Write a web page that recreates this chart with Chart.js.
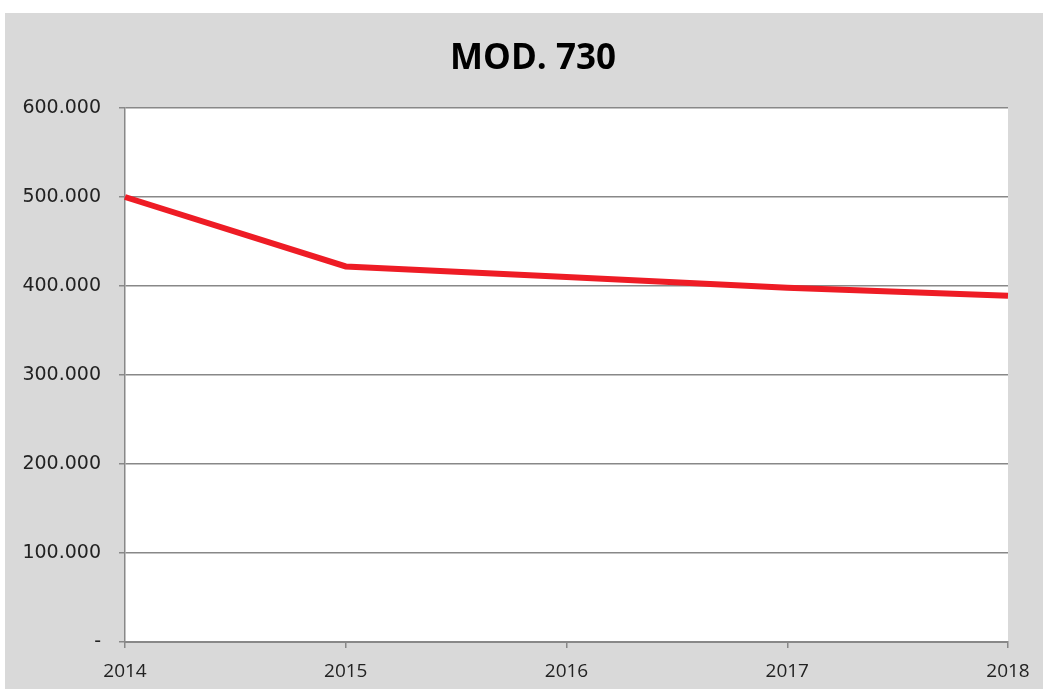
<!DOCTYPE html>
<html>
<head>
<meta charset="utf-8">
<script src="https://cdn.jsdelivr.net/npm/chart.js@4.4.0/dist/chart.umd.min.js"></script>
<style>
    html, body { margin: 0; padding: 0; background: #ffffff; }
    #wrap { position: absolute; left: 5px; top: 13px; width: 1038px; height: 676px; background: #d9d9d9; }
</style>
</head>
<body>
<div id="wrap"><canvas id="chart"></canvas></div>
<script>
const years = ["2014", "2015", "2016", "2017", "2018"];
const mod730 = [500000, 422000, 410000, 398000, 389000];
const yTicks = [0, 100000, 200000, 300000, 400000, 500000, 600000];
const chartTitle = "MOD. 730";

function formatIt(v) {
    if (v === 0) return "-";
    return String(v).replace(/\B(?=(\d{3})+(?!\d))/g, ".");
}

// white plot area + title centred on the whole page
const decor = {
    id: "decor",
    beforeDraw(chart) {
        const a = chart.chartArea;
        const ctx = chart.ctx;
        ctx.save();
        ctx.fillStyle = "#ffffff";
        ctx.fillRect(a.left, a.top, a.right - a.left, a.bottom - a.top);
        ctx.fillStyle = "#000000";
        ctx.font = "bold 35px 'Open Sans', sans-serif";
        ctx.textAlign = "center";
        ctx.textBaseline = "middle";
        ctx.fillText(chartTitle, 528, 46);
        ctx.restore();
    }
};

new Chart(document.getElementById("chart"), {
    type: "line",
    data: {
        labels: years,
        datasets: [{
            label: chartTitle,
            data: mod730,
            borderColor: "#ee1c25",
            borderWidth: 6,
            pointRadius: 0,
            tension: 0
        }]
    },
    options: {
        responsive: true,
        maintainAspectRatio: false,
        animation: false,
        layout: { padding: { left: 0, right: 35, top: 95, bottom: 0 } },
        plugins: {
            legend: { display: false },
            tooltip: { enabled: false },
            title: { display: false }
        },
        scales: {
            x: {
                offset: false,
                grid: { drawOnChartArea: false, drawTicks: true, tickLength: 6, tickColor: "#888888", lineWidth: 1.5 },
                border: { color: "#888888", width: 2 },
                ticks: {
                    color: "#222222",
                    padding: 12,
                    maxRotation: 0,
                    font: { family: "'Open Sans', sans-serif", size: 19 }
                },
                afterFit(scale) { scale.height = 47; }
            },
            y: {
                min: 0,
                max: 600000,
                afterBuildTicks(scale) { scale.ticks = yTicks.map(v => ({ value: v })); },
                grid: { color: "#888888", lineWidth: 1.5, tickLength: 6, tickColor: "#888888" },
                border: { color: "#888888", width: 1.5 },
                ticks: {
                    color: "#222222",
                    padding: 18,
                    font: { family: "'DejaVu Sans', sans-serif", size: 19 },
                    callback: v => formatIt(v)
                },
                afterFit(scale) { scale.width = 120; }
            }
        }
    },
    plugins: [decor]
});
</script>
</body>
</html>
